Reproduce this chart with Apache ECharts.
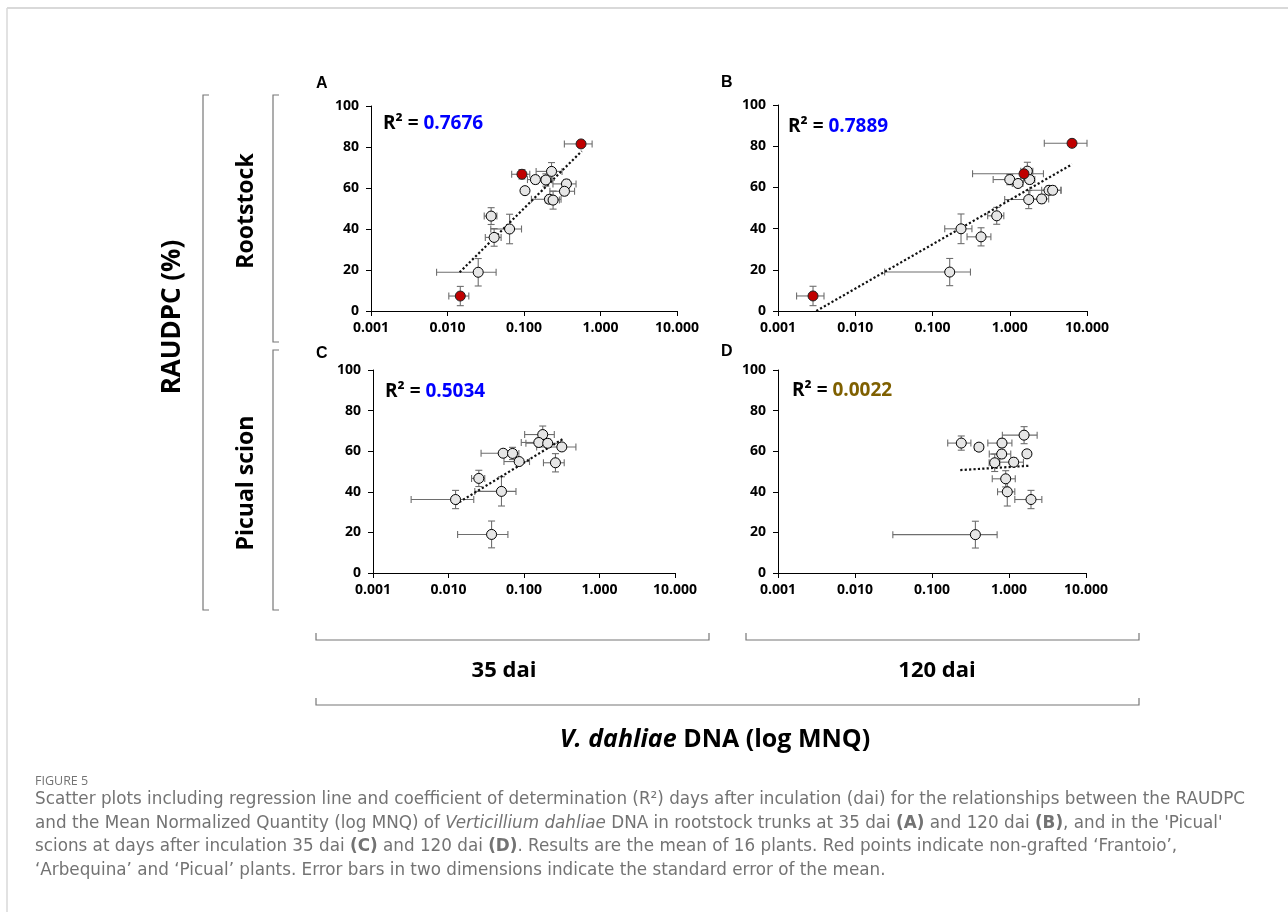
<!DOCTYPE html>
<html>
<head>
<meta charset="utf-8">
<script src="https://cdn.jsdelivr.net/npm/echarts@6/dist/echarts.min.js"></script>
<style>
html, body { margin: 0; padding: 0; background: #fff; }
#chart { width: 1288px; height: 912px; }
</style>
</head>
<body>
<div id="chart"></div>
<script>
// A - rootstock, 35 dai
var aX    = [0.557, 0.094, 0.0147, 0.229, 0.141, 0.193, 0.359, 0.103, 0.338, 0.215, 0.240, 0.0372, 0.0648, 0.0407, 0.0252];
var aY    = [81.5, 66.7, 7.3, 68.1, 64.1, 63.9, 62.0, 58.7, 58.4, 54.5, 54.1, 46.3, 40.0, 35.9, 18.9];
var aXse  = [0.22, 0.025, 0.0043, 0.085, 0.03, 0.04, 0.12, 0.008, 0.12, 0.09, 0.05, 0.007, 0.028, 0.0095, 0.018];
var aYse  = [1.5, 2.3, 4.7, 4.3, 2.0, 3.0, 2.0, 1.5, 2.0, 2.0, 4.4, 4.1, 7.2, 4.3, 6.7];
var aRed  = [1, 1, 1, 0, 0, 0, 0, 0, 0, 0, 0, 0, 0, 0, 0];
var aTrendX = [0.0144, 0.569];
var aTrendY = [18.9, 78.0];

// B - rootstock, 120 dai
var bX    = [6.40, 1.53, 0.00284, 1.69, 1.0, 1.28, 1.81, 3.22, 3.59, 1.76, 2.59, 0.678, 0.234, 0.425, 0.167];
var bY    = [81.4, 66.6, 7.3, 67.9, 63.8, 61.9, 63.8, 58.6, 58.6, 54.1, 54.4, 46.2, 39.9, 36.0, 18.9];
var bXse  = [3.6, 1.2, 0.0011, 0.3, 0.39, 0.2, 0.3, 1.4, 1.0, 0.9, 0.6, 0.16, 0.09, 0.145, 0.143];
var bYse  = [1.5, 1.5, 4.7, 4.3, 2.5, 1.5, 2.0, 2.0, 2.0, 4.4, 2.0, 4.1, 7.2, 4.4, 6.6];
var bRed  = [1, 1, 1, 0, 0, 0, 0, 0, 0, 0, 0, 0, 0, 0, 0];
var bTrendX = [0.00313, 6.40];
var bTrendY = [0, 71.2];

// C - Picual scion, 35 dai
var cX    = [0.177, 0.157, 0.206, 0.317, 0.053, 0.0705, 0.0863, 0.261, 0.0252, 0.0503, 0.0124, 0.0372];
var cY    = [68.2, 64.3, 63.9, 62.1, 59.0, 58.9, 54.9, 54.3, 46.6, 40.2, 36.2, 19.0];
var cXse  = [0.075, 0.065, 0.1, 0.17, 0.026, 0.015, 0.032, 0.08, 0.005, 0.028, 0.0092, 0.024];
var cYse  = [4.2, 2.0, 2.0, 1.5, 1.5, 3.0, 1.5, 4.5, 4.0, 7.2, 4.5, 6.6];
var cRed  = [0, 0, 0, 0, 0, 0, 0, 0, 0, 0, 0, 0];
var cTrendX = [0.0124, 0.323];
var cTrendY = [33.8, 65.9];

// D - Picual scion, 120 dai
var dX    = [1.57, 0.240, 0.811, 0.407, 0.804, 1.71, 0.652, 1.15, 0.906, 0.95, 1.93, 0.366];
var dY    = [67.9, 64.0, 64.0, 62.0, 58.6, 58.7, 54.3, 54.6, 46.4, 40.0, 36.2, 18.9];
var dXse  = [0.75, 0.08, 0.28, 0.05, 0.25, 0.1, 0.1, 0.39, 0.3, 0.24, 0.74, 0.335];
var dYse  = [4.2, 3.5, 2.0, 1.5, 2.0, 1.5, 4.3, 2.0, 4.0, 7.0, 4.5, 6.6];
var dRed  = [0, 0, 0, 0, 0, 0, 0, 0, 0, 0, 0, 0];
var dTrendX = [0.233, 1.80];
var dTrendY = [50.7, 52.8];

var panelLetters = ['A', 'B', 'C', 'D'];
var r2Values = ['0.7676', '0.7889', '0.5034', '0.0022'];
var r2Colors = ['#0000ff', '#0000ff', '#0000ff', '#7f6000'];
var rowLabels = ['Rootstock', 'Picual scion'];
var colLabels = ['35 dai', '120 dai'];

var panels = [
    { x: aX, y: aY, xse: aXse, yse: aYse, red: aRed, tx: aTrendX, ty: aTrendY,
      grid: { left: 371, top: 106, width: 306, height: 205 }, letter: [316, 84], r2: [383, 124] },
    { x: bX, y: bY, xse: bXse, yse: bYse, red: bRed, tx: bTrendX, ty: bTrendY,
      grid: { left: 778, top: 105, width: 309, height: 206 }, letter: [721, 83], r2: [788, 127] },
    { x: cX, y: cY, xse: cXse, yse: cYse, red: cRed, tx: cTrendX, ty: cTrendY,
      grid: { left: 373, top: 370, width: 302, height: 203 }, letter: [316, 354], r2: [385, 392] },
    { x: dX, y: dY, xse: dXse, yse: dYse, red: dRed, tx: dTrendX, ty: dTrendY,
      grid: { left: 778, top: 370, width: 308, height: 203 }, letter: [721, 352], r2: [792, 391] }
];

var labelFont = 'Open Sans';
var errColor = '#6e6e6e';

function errorBar(params, api) {
    var x = api.value(0), y = api.value(1), xs = api.value(2), ys = api.value(3);
    var c = api.coord([x, y]);
    var l = api.coord([x - xs, y]);
    var r = api.coord([x + xs, y]);
    var t = api.coord([x, y + ys]);
    var b = api.coord([x, y - ys]);
    var cap = 3.5;
    var st = { stroke: errColor, lineWidth: 1.1 };
    var seg = function (x1, y1, x2, y2) {
        return { type: 'line', shape: { x1: x1, y1: y1, x2: x2, y2: y2 }, style: st };
    };
    return {
        type: 'group',
        children: [
            seg(l[0], c[1], r[0], c[1]),
            seg(l[0], c[1] - cap, l[0], c[1] + cap),
            seg(r[0], c[1] - cap, r[0], c[1] + cap),
            seg(c[0], t[1], c[0], b[1]),
            seg(c[0] - cap, t[1], c[0] + cap, t[1]),
            seg(c[0] - cap, b[1], c[0] + cap, b[1])
        ]
    };
}

var grids = [], xAxes = [], yAxes = [], series = [], graphics = [];

panels.forEach(function (p, i) {
    grids.push(p.grid);
    xAxes.push({
        type: 'log', logBase: 10, min: 0.001, max: 10, gridIndex: i,
        axisLine: { lineStyle: { color: '#000', width: 1 } },
        axisTick: { show: true, length: 5, lineStyle: { color: '#000' } },
        splitLine: { show: false },
        axisLabel: {
            margin: 10, color: '#000', fontFamily: labelFont, fontWeight: 'bold', fontSize: 14,
            formatter: function (v) { return Number(v).toFixed(3); }
        }
    });
    yAxes.push({
        type: 'value', min: 0, max: 100, interval: 20, gridIndex: i,
        axisLine: { show: true, lineStyle: { color: '#000', width: 1 } },
        axisTick: { show: true, length: 5, lineStyle: { color: '#000' } },
        splitLine: { show: false },
        axisLabel: { margin: 12, color: '#000', fontFamily: labelFont, fontWeight: 'bold', fontSize: 14 }
    });

    var pts = p.x.map(function (v, k) { return [v, p.y[k], p.xse[k], p.yse[k]]; });
    series.push({
        type: 'custom', xAxisIndex: i, yAxisIndex: i, renderItem: errorBar,
        data: pts, encode: { x: 0, y: 1 }, z: 2, silent: true
    });
    series.push({
        type: 'line', xAxisIndex: i, yAxisIndex: i, symbol: 'none', z: 4, silent: true,
        data: p.tx.map(function (v, k) { return [v, p.ty[k]]; }),
        lineStyle: { type: 'dotted', width: 2.2, color: '#111' }
    });
    series.push({
        type: 'scatter', xAxisIndex: i, yAxisIndex: i, symbolSize: 10, z: 5,
        data: pts.filter(function (d, k) { return !p.red[k]; }).map(function (d) { return [d[0], d[1]]; }),
        itemStyle: { color: '#e6e6e6', borderColor: '#000', borderWidth: 1, opacity: 1 }
    });
    series.push({
        type: 'scatter', xAxisIndex: i, yAxisIndex: i, symbolSize: 10, z: 6,
        data: pts.filter(function (d, k) { return p.red[k]; }).map(function (d) { return [d[0], d[1]]; }),
        itemStyle: { color: '#c00000', borderColor: '#222', borderWidth: 1, opacity: 1 }
    });

    graphics.push({
        type: 'text', x: p.letter[0], y: p.letter[1],
        style: { text: panelLetters[i], font: 'bold 16px "Liberation Sans"', fill: '#000', verticalAlign: 'middle' }
    });
    graphics.push({
        type: 'text', x: p.r2[0], y: p.r2[1],
        style: {
            text: '{k|R² = }{v|' + r2Values[i] + '}', verticalAlign: 'middle',
            rich: {
                k: { fontFamily: labelFont, fontWeight: 'bold', fontSize: 19, fill: '#000' },
                v: { fontFamily: labelFont, fontWeight: 'bold', fontSize: 19, fill: r2Colors[i] }
            }
        }
    });
});

// frame of the figure box
graphics.push({ type: 'line', shape: { x1: 7, y1: 8, x2: 1288, y2: 8 }, style: { stroke: '#d9d9d9', lineWidth: 2 } });
graphics.push({ type: 'line', shape: { x1: 7, y1: 8, x2: 7, y2: 912 }, style: { stroke: '#d9d9d9', lineWidth: 1.5 } });

// brackets
var brk = { stroke: '#777', lineWidth: 1.2, fill: null };
function vBracket(x, y1, y2) {
    graphics.push({ type: 'polyline', shape: { points: [[x + 6, y1], [x, y1], [x, y2], [x + 6, y2]] }, style: brk });
}
function hBracket(y, x1, x2) {
    graphics.push({ type: 'polyline', shape: { points: [[x1, y - 7], [x1, y], [x2, y], [x2, y - 7]] }, style: brk });
}
vBracket(203, 95, 610);
vBracket(273, 95, 342);
vBracket(273, 350, 610);
hBracket(640, 316, 709);
hBracket(640, 746, 1139);
hBracket(705, 316, 1139);

function rotText(txt, x, y, size) {
    graphics.push({
        type: 'text', x: x, y: y, rotation: Math.PI / 2,
        style: { text: txt, font: 'bold ' + size + 'px "Open Sans"', fill: '#000', align: 'center', verticalAlign: 'middle' }
    });
}
rotText('RAUDPC (%)', 173, 317, 26);
rotText(rowLabels[0], 246, 211, 23);
rotText(rowLabels[1], 246, 483, 23);

function cText(txt, x, y, size) {
    graphics.push({
        type: 'text', x: x, y: y,
        style: { text: txt, font: 'bold ' + size + 'px "Open Sans"', fill: '#000', align: 'center', verticalAlign: 'middle' }
    });
}
cText(colLabels[0], 504, 671, 22);
cText(colLabels[1], 937, 671, 22);

graphics.push({
    type: 'text', x: 715, y: 740,
    style: {
        text: '{i|V. dahliae}{b| DNA (log MNQ)}', align: 'center', verticalAlign: 'middle',
        rich: {
            i: { fontFamily: 'Open Sans', fontWeight: 'bold', fontStyle: 'italic', fontSize: 25, fill: '#000' },
            b: { fontFamily: 'Open Sans', fontWeight: 'bold', fontSize: 25, fill: '#000' }
        }
    }
});

// caption
var capFont = 'DejaVu Sans';
var capColor = '#737373';
var capSize = 16.8;
graphics.push({
    type: 'text', x: 35, y: 781,
    style: { text: 'FIGURE 5', font: '12.5px "Open Sans"', fill: capColor, verticalAlign: 'middle' }
});
var capLines = [
    '{n|Scatter plots including regression line and coefficient of determination (R²) days after inculation (dai) for the relationships between the RAUDPC}',
    '{n|and the Mean Normalized Quantity (log MNQ) of }{i|Verticillium dahliae}{n| DNA in rootstock trunks at 35 dai }{b|(A)}{n| and 120 dai }{b|(B)}{n|, and in the \'Picual\'}',
    '{n|scions at days after inculation 35 dai }{b|(C)}{n| and 120 dai }{b|(D)}{n|. Results are the mean of 16 plants. Red points indicate non-grafted ‘Frantoio’,}',
    '{n|‘Arbequina’ and ‘Picual’ plants. Error bars in two dimensions indicate the standard error of the mean.}'
];
var capRich = {
    n: { fontFamily: capFont, fontSize: capSize, fill: capColor },
    i: { fontFamily: capFont, fontStyle: 'italic', fontSize: capSize, fill: capColor },
    b: { fontFamily: capFont, fontWeight: 'bold', fontSize: capSize, fill: capColor }
};
capLines.forEach(function (ln, k) {
    graphics.push({
        type: 'text', x: 35, y: 800 + k * 23.5,
        style: { text: ln, rich: capRich, verticalAlign: 'middle' }
    });
});

var chart = echarts.init(document.getElementById('chart'));
chart.setOption({
    animation: false,
    backgroundColor: '#fff',
    grid: grids,
    xAxis: xAxes,
    yAxis: yAxes,
    series: series,
    graphic: graphics
});
</script>
</body>
</html>
